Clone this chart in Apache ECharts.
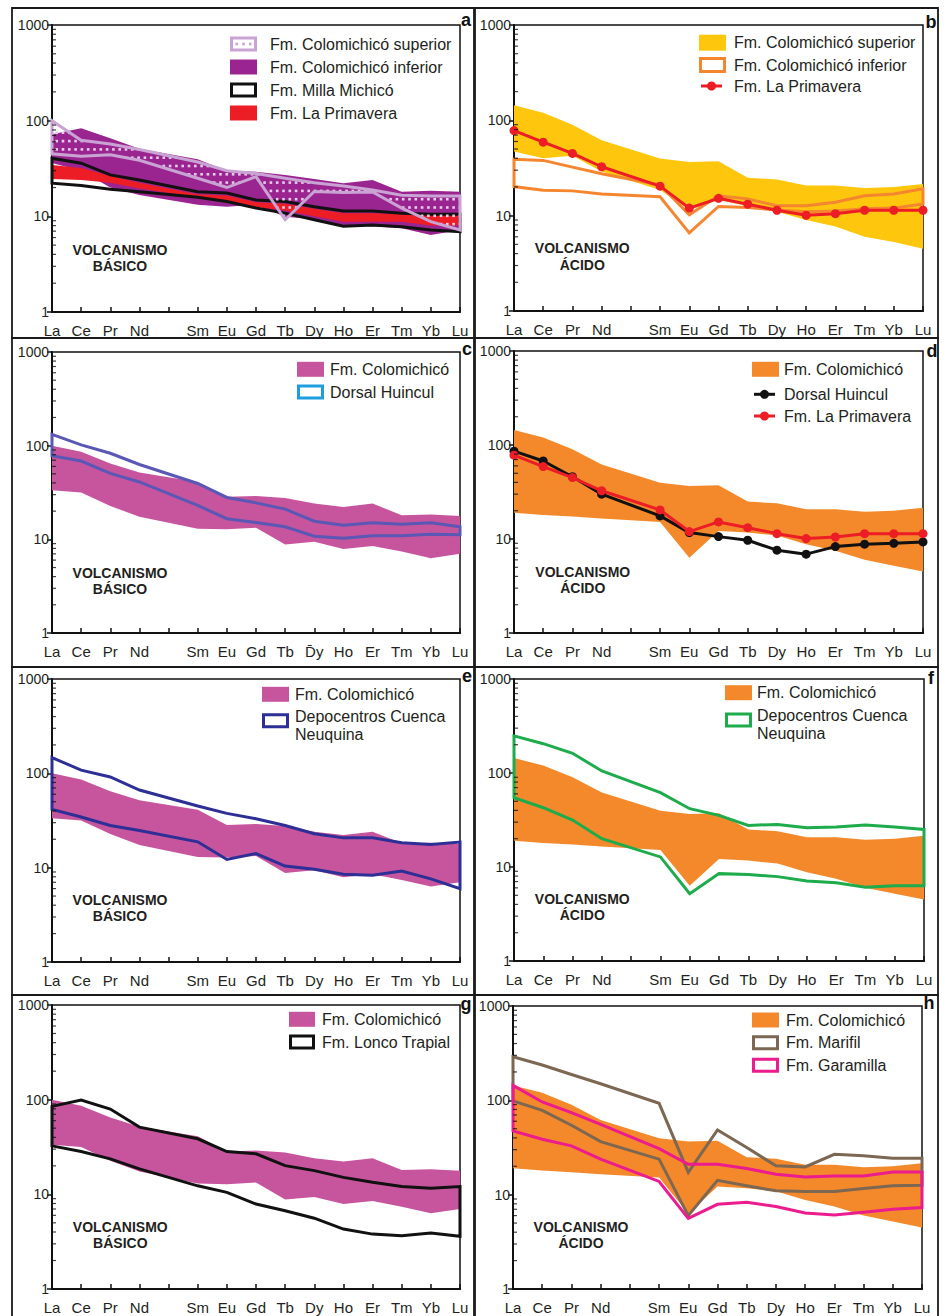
<!DOCTYPE html>
<html lang="es">
<head>
<meta charset="utf-8">
<title>Diagramas de tierras raras normalizados</title>
<script src="https://cdn.jsdelivr.net/npm/echarts@6/dist/echarts.min.js"></script>
<style>
html, body { margin: 0; padding: 0; background: #fff; }
#chart { width: 947px; height: 1316px; }
</style>
</head>
<body>
<div id="chart"></div>
<script>
// ---- Axis categories and tick labels ----
const ELEMENTS = ['La','Ce','Pr','Nd','Pm','Sm','Eu','Gd','Tb','Dy','Ho','Er','Tm','Yb','Lu'];
const REE = ['La','Ce','Pr','Nd','Sm','Eu','Gd','Tb','Dy','Ho','Er','Tm','Yb','Lu'];
const X_LABELS = ['La','Ce','Pr','Nd','','Sm','Eu','Gd','Tb','Dy','Ho','Er','Tm','Yb','Lu'];
const X_LABELS_C = ['La','Ce','Pr','Nd','','Sm','Eu','Gd','Tb','D\u0304y','Ho','Er','Tm','Yb','Lu'];
const Y_LABELS = { 1: '1', 10: '10', 100: '100', 1000: '1000' };
const MINOR_TICKS = [2,3,4,5,6,7,8,9,20,30,40,50,60,70,80,90,200,300,400,500,600,700,800,900];

// ---- Fm. Colomichicó envelopes (chondrite-normalised) ----
const BASIC_MAX = [100, 86, 64.7, 51.8, 41, 28.4, 29.1, 27.7, 24.1, 22.2, 24.1, 18.1, 18.4, 17.8];
const BASIC_MIN = [33.5, 31.6, 22.7, 17.4, 13, 12.8, 13.3, 8.8, 9.4, 7.9, 8.5, 7.4, 6.3, 7.0];
const ACID_MAX = [144, 120, 90, 62, 39.7, 36.6, 37.2, 25, 24, 20.7, 20.7, 19.5, 20, 21.5];
const ACID_MIN = [19, 18, 17.3, 16.5, 15.2, 6.3, 12.2, 11.7, 10.9, 8.8, 7.5, 6, 5.2, 4.5];

// panel a (volcanismo básico)
const A_INF_MAX = [72, 83.5, 65.6, 50.8, 39.6, 30, 29.3, 27.1, 24.5, 22.2, 24, 18.1, 18.5, 18.1];
const A_INF_MIN = [36, 30, 20, 16.7, 13.2, 12.6, 13.2, 9.9, 9.3, 7.8, 7.9, 7.5, 6.4, 7.2];
const A_SUP_MAX = [100, 62.5, 57, 50, 37, 30, 28, 25, 22.4, 20.7, 18.8, 16.6, 16.3, 16.3];
const A_SUP_MIN = [45, 42.5, 44, 38.5, 25, 20, 26, 9.2, 18.2, 17.8, 18, 12.2, 8.8, 7.2];
const A_MILLA_MAX = [40.5, 35.9, 27.1, 24, 18.1, 17.5, 14.8, 14.3, 12.6, 11.4, 11.4, 10.8, 10.5, 10.5];
const A_MILLA_MIN = [22.2, 21, 19.2, 18.1, 15.8, 14.3, 12.2, 10.8, 9.2, 7.9, 8.1, 7.8, 7.2, 6.9];
const A_PRIM_MAX = [34.5, 32, 26.5, 22.5, 17, 16.5, 14, 13.5, 12, 10.8, 10.8, 10.6, 10.3, 10.3];
const A_PRIM_MIN = [24.5, 24, 22.5, 19.5, 15.8, 14.3, 12.5, 11.5, 10, 8.8, 8.8, 8.8, 8.0, 8.0];

// panel b (volcanismo ácido)
const B_SUP_MIN = [47, 40, 42.5, 29, 18.6, 11.5, 14.6, 12.6, 11, 9, 7.7, 6, 5.3, 4.5];
const B_INF_MAX = [39, 38, 32.3, 27.5, 21, 10.2, 16.2, 15, 12.7, 12.7, 13.8, 16.2, 16.9, 19.1];
const B_INF_MIN = [20.2, 18.5, 18.2, 16.9, 15.8, 6.6, 12.5, 12.2, 11.5, 11, 11.2, 11.8, 12, 13.3];
const PRIMAVERA = [78, 59, 45, 32.6, 20.4, 12, 15.2, 13.2, 11.4, 10.1, 10.5, 11.4, 11.4, 11.4];

// panels c, d
const DORSAL_BASIC_MAX = [132, 102, 83, 63, 39.5, 28, 24.5, 21, 15.6, 14.1, 15, 14.5, 15, 13.6];
const DORSAL_BASIC_MIN = [78, 68.5, 50.5, 41, 23, 16.6, 15.1, 13.6, 10.8, 10.3, 10.9, 10.9, 11.3, 11.2];
const DORSAL_ACID = [86, 67.6, 46, 30, 17.6, 11.7, 10.6, 9.7, 7.6, 6.9, 8.3, 8.8, 9, 9.3];

// panels e, f
const DEPO_BASIC_MAX = [147, 108, 91.5, 66.5, 45, 37.6, 33, 28, 22.9, 20.7, 20.7, 18.4, 17.6, 18.7];
const DEPO_BASIC_MIN = [41.5, 34.4, 28, 24.8, 18.8, 12.2, 14.1, 10.4, 9.6, 8.5, 8.3, 9.2, 7.6, 6.0];
const DEPO_ACID_MAX = [248, 205, 162, 105, 61.7, 41.7, 35.4, 27.7, 28.4, 26.1, 26.6, 27.9, 26.6, 25.1];
const DEPO_ACID_MIN = [54.6, 42.7, 31.6, 20, 12.8, 5.2, 8.5, 8.3, 7.9, 7.1, 6.8, 6.1, 6.3, 6.3];

// panels g, h
const LONCO_MAX = [85, 99, 79.6, 51.3, 38.6, 28.3, 26.8, 20.1, 17.8, 15.1, 13.4, 12.1, 11.6, 12.1];
const LONCO_MIN = [32.5, 28.3, 23.7, 18.6, 12.3, 10.5, 7.9, 6.7, 5.6, 4.3, 3.8, 3.65, 3.9, 3.6];
const MARIFIL_MAX = [290, 237, 188, 150, 93, 17.2, 48.5, 31.6, 20.2, 19.7, 26.8, 25.8, 24.3, 24.3];
const MARIFIL_MIN = [98.5, 78.4, 54.4, 36.5, 23.8, 6.0, 14.2, 12.4, 11, 10.8, 10.8, 11.6, 12.4, 12.6];
const GARAMILLA_MAX = [144, 96, 74, 55.7, 30.8, 21, 21, 18.9, 16.5, 15.4, 15.8, 15.8, 17.4, 17.4];
const GARAMILLA_MIN = [47.4, 38.7, 32.9, 23.8, 13.8, 5.6, 7.9, 8.3, 7.5, 6.4, 6.1, 6.5, 7.0, 7.3];

// ---- styling ----
const FONT = '"Liberation Sans", Arial, Helvetica, sans-serif';
const INK = '#231f20';
const C = {
  purple: '#9b2590', lilac: '#c9a3d3', dots: '#e3cde9', red: '#ec1d25', black: '#111111',
  yellow: '#fec70e', orange: '#f3892b', orangeLine: '#f5862f', magenta: '#c7559e',
  dorsalLine: '#5a57b5', dorsalKey: '#1e9ee0', depoBlue: '#2d2f96', green: '#1dab4b',
  marifil: '#7c6753', garamilla: '#ec1b8e'
};
const X_IDX = REE.map(e => ELEMENTS.indexOf(e));

const PANELS = [
  { letter: 'a', grid: [52, 25, 408, 287], frame: [12, 8, 462, 330], letterPos: [466, 20],
    volc: ['VOLCANISMO', 'BÁSICO'], volcPos: [120, 250, 265.7],
    layers: [
      { type: 'band', hi: A_INF_MAX, lo: A_INF_MIN, fill: C.purple },
      { type: 'band', hi: A_PRIM_MAX, lo: A_PRIM_MIN, fill: C.red },
      { type: 'band', hi: A_MILLA_MAX, lo: A_MILLA_MIN, stroke: C.black, width: 3 },
      { type: 'band', hi: A_SUP_MAX, lo: A_SUP_MIN, stroke: C.lilac, width: 3, dots: C.dots }
    ],
    legend: { x: 230, textX: 270, w: 27, h: 15, items: [
      { kind: 'dots', color: C.lilac, y: 44, text: ['Fm. Colomichicó superior'] },
      { kind: 'fill', color: C.purple, y: 67, text: ['Fm. Colomichicó inferior'] },
      { kind: 'outline', color: C.black, y: 90, text: ['Fm. Milla Michicó'] },
      { kind: 'fill', color: C.red, y: 113, text: ['Fm. La Primavera'] }
    ] } },
  { letter: 'b', grid: [514, 25, 409, 286], frame: [475, 8, 463, 330], letterPos: [931, 22],
    volc: ['VOLCANISMO', 'ÁCIDO'], volcPos: [582.3, 248.3, 265],
    layers: [
      { type: 'band', hi: ACID_MAX, lo: B_SUP_MIN, fill: C.yellow },
      { type: 'band', hi: B_INF_MAX, lo: B_INF_MIN, stroke: C.orangeLine, width: 3 },
      { type: 'line', values: PRIMAVERA, color: C.red }
    ],
    legend: { x: 699, textX: 734, w: 27, h: 16, items: [
      { kind: 'fill', color: C.yellow, y: 42.7, text: ['Fm. Colomichicó superior'] },
      { kind: 'outline', color: C.orangeLine, y: 65, text: ['Fm. Colomichicó inferior'] },
      { kind: 'line', color: C.red, y: 86, text: ['Fm. La Primavera'] }
    ] } },
  { letter: 'c', grid: [52, 352, 408, 281], frame: [12, 338, 462, 329], letterPos: [467, 349],
    volc: ['VOLCANISMO', 'BÁSICO'], volcPos: [120, 573.3, 589.3], xLabels: X_LABELS_C,
    layers: [
      { type: 'band', hi: BASIC_MAX, lo: BASIC_MIN, fill: C.magenta },
      { type: 'band', hi: DORSAL_BASIC_MAX, lo: DORSAL_BASIC_MIN, stroke: C.dorsalLine, width: 3 }
    ],
    legend: { x: 297, textX: 330, w: 27, h: 15, items: [
      { kind: 'fill', color: C.magenta, y: 369.3, text: ['Fm. Colomichicó'] },
      { kind: 'outline', color: C.dorsalKey, y: 392, text: ['Dorsal Huincul'] }
    ] } },
  { letter: 'd', grid: [514, 351, 409, 282], frame: [475, 338, 463, 329], letterPos: [932, 351],
    volc: ['VOLCANISMO', 'ÁCIDO'], volcPos: [582.8, 572, 587.7],
    layers: [
      { type: 'band', hi: ACID_MAX, lo: ACID_MIN, fill: C.orange },
      { type: 'line', values: DORSAL_ACID, color: C.black },
      { type: 'line', values: PRIMAVERA, color: C.red }
    ],
    legend: { x: 752, textX: 784, w: 27, h: 15, items: [
      { kind: 'fill', color: C.orange, y: 369.3, text: ['Fm. Colomichicó'] },
      { kind: 'line', color: C.black, y: 394.3, text: ['Dorsal Huincul'] },
      { kind: 'line', color: C.red, y: 416, text: ['Fm. La Primavera'] }
    ] } },
  { letter: 'e', grid: [52, 679, 408, 283], frame: [12, 667, 462, 328], letterPos: [467, 676],
    volc: ['VOLCANISMO', 'BÁSICO'], volcPos: [120, 900.3, 916],
    layers: [
      { type: 'band', hi: BASIC_MAX, lo: BASIC_MIN, fill: C.magenta },
      { type: 'band', hi: DEPO_BASIC_MAX, lo: DEPO_BASIC_MIN, stroke: C.depoBlue, width: 3 }
    ],
    legend: { x: 262, textX: 295, w: 27, h: 15, items: [
      { kind: 'fill', color: C.magenta, y: 694.3, text: ['Fm. Colomichicó'] },
      { kind: 'outline', color: C.depoBlue, y: 720.7, text: ['Depocentros Cuenca', 'Neuquina'], textY: [716, 734.3] }
    ] } },
  { letter: 'f', grid: [514, 679, 410, 282], frame: [475, 667, 463, 328], letterPos: [931, 678],
    volc: ['VOLCANISMO', 'ÁCIDO'], volcPos: [582.3, 899.3, 915.3],
    layers: [
      { type: 'band', hi: ACID_MAX, lo: ACID_MIN, fill: C.orange },
      { type: 'band', hi: DEPO_ACID_MAX, lo: DEPO_ACID_MIN, stroke: C.green, width: 3 }
    ],
    legend: { x: 725, textX: 757, w: 27, h: 15, items: [
      { kind: 'fill', color: C.orange, y: 692.7, text: ['Fm. Colomichicó'] },
      { kind: 'outline', color: C.green, y: 720, text: ['Depocentros Cuenca', 'Neuquina'], textY: [715.3, 733.7] }
    ] } },
  { letter: 'g', grid: [52, 1005, 408, 284], frame: [12, 995, 462, 330], letterPos: [466, 1004],
    volc: ['VOLCANISMO', 'BÁSICO'], volcPos: [120.3, 1227, 1242.7],
    layers: [
      { type: 'band', hi: BASIC_MAX, lo: BASIC_MIN, fill: C.magenta },
      { type: 'band', hi: LONCO_MAX, lo: LONCO_MIN, stroke: C.black, width: 3 }
    ],
    legend: { x: 289, textX: 322, w: 26, h: 15, items: [
      { kind: 'fill', color: C.magenta, y: 1019.3, text: ['Fm. Colomichicó'] },
      { kind: 'outline', color: C.black, y: 1042, text: ['Fm. Lonco Trapial'] }
    ] } },
  { letter: 'h', grid: [513, 1006, 409, 283], frame: [475, 995, 463, 330], letterPos: [929, 1003],
    volc: ['VOLCANISMO', 'ÁCIDO'], volcPos: [581, 1226.7, 1242.7],
    layers: [
      { type: 'band', hi: ACID_MAX, lo: ACID_MIN, fill: C.orange },
      { type: 'band', hi: MARIFIL_MAX, lo: MARIFIL_MIN, stroke: C.marifil, width: 3 },
      { type: 'band', hi: GARAMILLA_MAX, lo: GARAMILLA_MIN, stroke: C.garamilla, width: 3 }
    ],
    legend: { x: 752, textX: 786, w: 27, h: 15, items: [
      { kind: 'fill', color: C.orange, y: 1020, text: ['Fm. Colomichicó'] },
      { kind: 'outline', color: C.marifil, y: 1042.7, text: ['Fm. Marifil'] },
      { kind: 'outline', color: C.garamilla, y: 1065.3, text: ['Fm. Garamilla'] }
    ] } }
];

// point-in-polygon test (even-odd rule)
function inside(pts, x, y) {
  let c = false;
  for (let i = 0, j = pts.length - 1; i < pts.length; j = i++) {
    const xi = pts[i][0], yi = pts[i][1], xj = pts[j][0], yj = pts[j][1];
    if (((yi > y) !== (yj > y)) && (x < (xj - xi) * (y - yi) / (yj - yi) + xi)) c = !c;
  }
  return c;
}

// rows of small dots filling a polygon given in pixel coordinates
function dotGrid(pts, color) {
  let minX = Infinity, maxX = -Infinity, minY = Infinity, maxY = -Infinity;
  pts.forEach(p => { minX = Math.min(minX, p[0]); maxX = Math.max(maxX, p[0]); minY = Math.min(minY, p[1]); maxY = Math.max(maxY, p[1]); });
  const rowStep = 8.3, colStep = 6.3, out = [];
  for (let y = Math.ceil(minY / rowStep) * rowStep; y <= maxY; y += rowStep) {
    for (let x = Math.ceil(minX / colStep) * colStep; x <= maxX; x += colStep) {
      if (inside(pts, x, y)) {
        out.push({ type: 'rect', shape: { x: x - 1.3, y: y - 1.3, width: 2.6, height: 2.6 }, style: { fill: color } });
      }
    }
  }
  return out;
}

function bandSeries(gi, layer, z) {
  return {
    type: 'custom', xAxisIndex: gi, yAxisIndex: gi, silent: true, clip: false, z: z,
    data: REE.map((e, i) => [X_IDX[i], layer.lo[i], layer.hi[i]]),
    encode: { x: 0, y: [1, 2] },
    renderItem: function (params, api) {
      if (params.dataIndex !== 0) return null;
      const pts = [];
      for (let i = 0; i < REE.length; i++) pts.push(api.coord([X_IDX[i], layer.hi[i]]));
      for (let i = REE.length - 1; i >= 0; i--) pts.push(api.coord([X_IDX[i], layer.lo[i]]));
      const children = [];
      if (layer.fill) children.push({ type: 'polygon', shape: { points: pts }, style: { fill: layer.fill } });
      if (layer.dots) dotGrid(pts, layer.dots).forEach(d => children.push(d));
      if (layer.stroke) children.push({ type: 'polygon', shape: { points: pts }, style: { fill: 'none', stroke: layer.stroke, lineWidth: layer.width, lineJoin: 'miter' } });
      return { type: 'group', children: children };
    }
  };
}

function lineSeries(gi, layer, z) {
  return {
    type: 'line', xAxisIndex: gi, yAxisIndex: gi, silent: true, z: z,
    data: REE.map((e, i) => [X_IDX[i], layer.values[i]]),
    symbol: 'circle', symbolSize: 9, showSymbol: true,
    lineStyle: { color: layer.color, width: 3 },
    itemStyle: { color: layer.color }
  };
}

function legendGraphics(L) {
  const out = [];
  L.items.forEach(it => {
    const x = L.x, w = L.w, h = L.h, y = it.y - h / 2;
    if (it.kind === 'fill') {
      out.push({ type: 'rect', shape: { x: x, y: y, width: w, height: h }, style: { fill: it.color } });
    } else if (it.kind === 'outline' || it.kind === 'dots') {
      out.push({ type: 'rect', shape: { x: x + 1.5, y: y + 1.5, width: w - 3, height: h - 3 }, style: { fill: '#fff', stroke: it.color, lineWidth: 3 } });
      if (it.kind === 'dots') {
        [-1, 0, 1].forEach(k => out.push({ type: 'rect', shape: { x: x + w / 2 + k * 6.7 - 1.3, y: it.y - 1.3, width: 2.6, height: 2.6 }, style: { fill: it.color } }));
      }
    } else if (it.kind === 'line') {
      out.push({ type: 'line', shape: { x1: x + 2, y1: it.y, x2: x + w - 4, y2: it.y }, style: { stroke: it.color, lineWidth: 3 } });
      out.push({ type: 'circle', shape: { cx: x + w / 2 - 1, cy: it.y, r: 4.5 }, style: { fill: it.color } });
    }
    it.text.forEach((t, k) => out.push({
      type: 'text', x: L.textX, y: it.textY ? it.textY[k] : it.y,
      style: { text: t, font: '16px ' + FONT, fill: INK, align: 'left', textAlign: 'left', verticalAlign: 'middle', textVerticalAlign: 'middle' }
    }));
  });
  return out;
}

const grids = [], xAxes = [], yAxes = [], series = [], elements = [];

PANELS.forEach((p, gi) => {
  grids.push({ left: p.grid[0], top: p.grid[1], width: p.grid[2], height: p.grid[3], show: true, borderColor: '#111', borderWidth: 1.5, backgroundColor: 'transparent' });
  const labels = p.xLabels || X_LABELS;
  xAxes.push({
    gridIndex: gi, type: 'category', data: ELEMENTS, boundaryGap: false,
    axisLine: { lineStyle: { color: '#111', width: 2 } },
    axisTick: { inside: true, length: 5, interval: 0, lineStyle: { color: '#111', width: 1.5 } },
    axisLabel: { interval: 0, margin: 11, fontSize: 15, fontFamily: FONT, color: INK, formatter: (v, i) => labels[i] },
    splitLine: { show: false }
  });
  yAxes.push({
    gridIndex: gi, type: 'log', logBase: 10, min: 1, max: 1000,
    axisLine: { show: true, lineStyle: { color: '#111', width: 2 } },
    axisTick: { show: true, length: 5, lineStyle: { color: '#111', width: 1.5 } },
    axisLabel: { margin: 3, fontSize: 14, fontFamily: FONT, color: INK, formatter: v => Y_LABELS[Math.round(v)] || '' },
    splitLine: { show: false }
  });
  p.layers.forEach((layer, k) => {
    series.push(layer.type === 'band' ? bandSeries(gi, layer, 2 + k) : lineSeries(gi, layer, 2 + k));
  });
  // minor ticks of the logarithmic axis, drawn inside the plot
  series.push({
    type: 'scatter', xAxisIndex: gi, yAxisIndex: gi, silent: true, z: 20, clip: false,
    data: MINOR_TICKS.map(v => [0, v]),
    symbol: 'rect', symbolSize: [4, 1.2], symbolOffset: [2, 0], itemStyle: { color: '#111' }
  });

  elements.push({ type: 'rect', silent: true, z: 50, shape: { x: p.frame[0], y: p.frame[1], width: p.frame[2], height: p.frame[3] }, style: { fill: 'none', stroke: '#1a1a1a', lineWidth: 1.8 } });
  elements.push({ type: 'text', silent: true, z: 60, x: p.letterPos[0], y: p.letterPos[1],
    style: { text: p.letter, font: 'bold 18px ' + FONT, fill: '#111', align: 'center', textAlign: 'center', verticalAlign: 'middle', textVerticalAlign: 'middle' } });
  p.volc.forEach((t, k) => elements.push({ type: 'text', silent: true, z: 60, x: p.volcPos[0], y: p.volcPos[1 + k],
    style: { text: t, font: 'bold 14px ' + FONT, fill: INK, align: 'center', textAlign: 'center', verticalAlign: 'middle', textVerticalAlign: 'middle' } }));
  legendGraphics(p.legend).forEach(e => { e.silent = true; e.z = 60; elements.push(e); });
});

const chart = echarts.init(document.getElementById('chart'), null, { renderer: 'svg', width: 947, height: 1316 });
chart.setOption({
  animation: false,
  backgroundColor: '#ffffff',
  grid: grids,
  xAxis: xAxes,
  yAxis: yAxes,
  series: series,
  graphic: { elements: elements }
});
</script>
</body>
</html>
